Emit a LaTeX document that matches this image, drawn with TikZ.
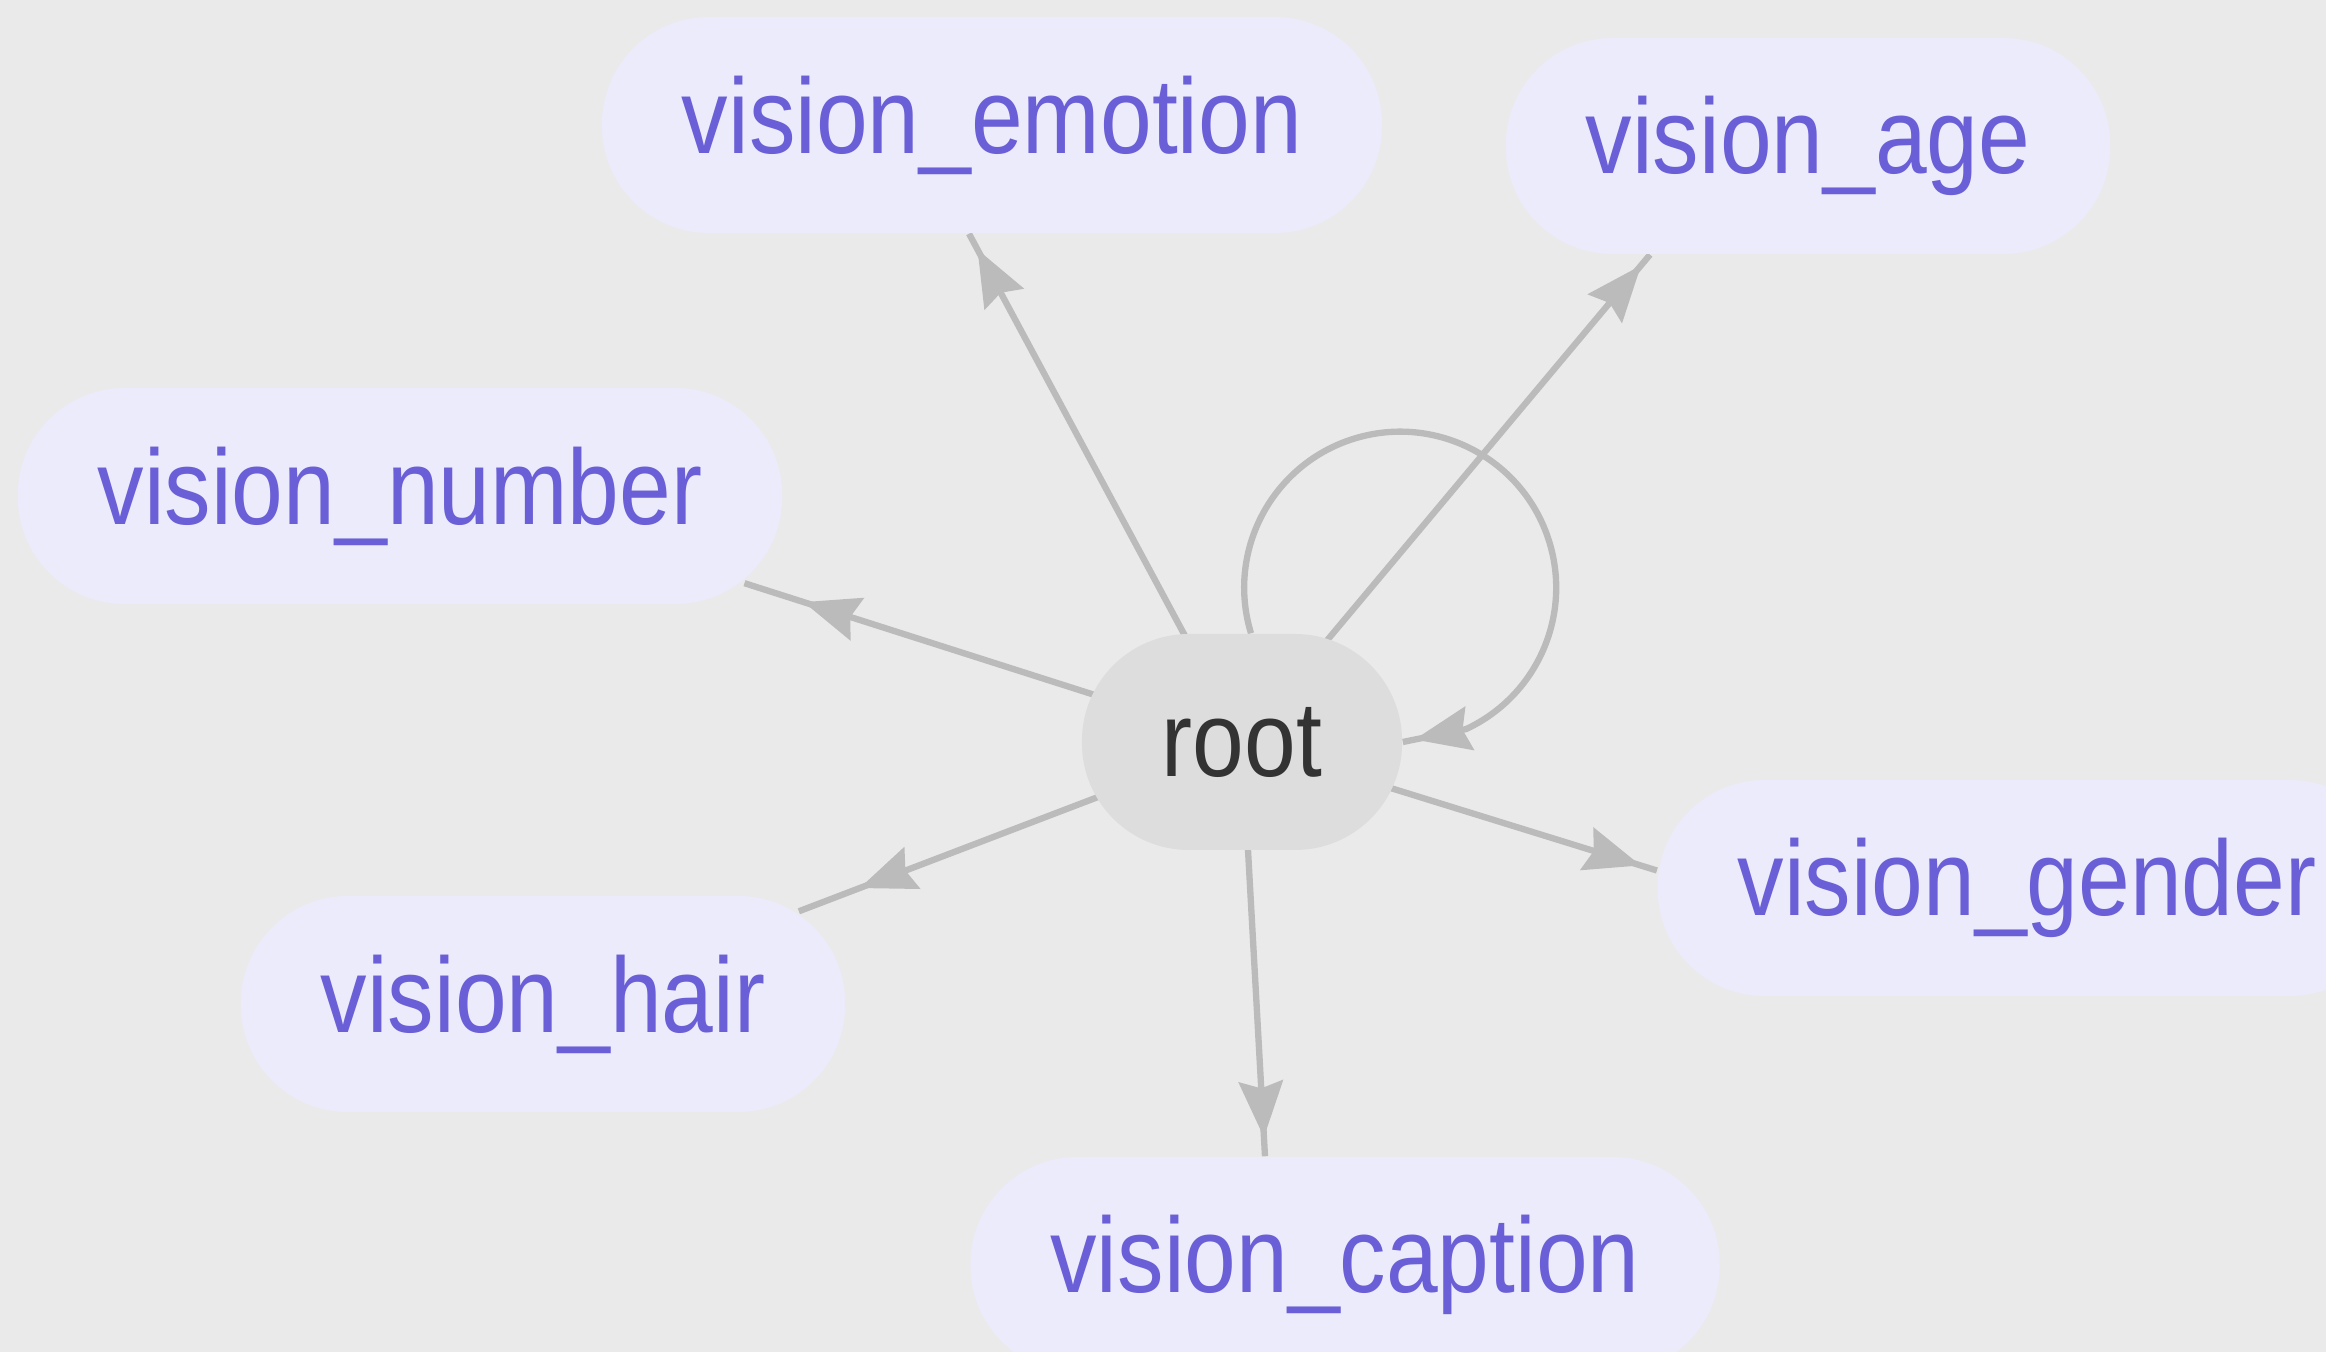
\documentclass[tikz,border=0pt]{standalone}
\usepackage{fontspec}
\setmainfont{Liberation Sans}[FakeStretch=0.87]
\usetikzlibrary{arrows.meta,decorations.markings}
\definecolor{canvas}{HTML}{EAEAEA}
\definecolor{lavender}{HTML}{ECEBFB}
\definecolor{labelblue}{HTML}{6A5FD6}
\definecolor{rootgrey}{HTML}{DDDDDD}
\definecolor{darktext}{HTML}{333333}
\definecolor{wireclr}{HTML}{BBBBBB}
\pgfdeclarelayer{background}
\pgfdeclarelayer{edges}
\pgfsetlayers{background,edges,main}

\begin{document}
\begin{tikzpicture}[
  task/.style={fill=lavender, rounded corners=1.07cm, minimum height=2.16cm, inner xsep=0.8cm, inner ysep=0pt, text=labelblue, font=\fontsize{30.4}{34}\selectfont},
  hub/.style={task, fill=rootgrey, text=darktext},
  wire/.style={draw=wireclr, line width=1.8pt},
  link/.style={wire, postaction=decorate, decoration={markings, mark=at position -#1 with {\arrow{Stealth[length=5.6mm,width=4.4mm,inset=0.7mm]}}}}
]
\useasboundingbox (0,0) rectangle (23.26,-13.52);
\begin{pgfonlayer}{background}
\fill[canvas] (0,0) rectangle (23.26,-13.52);
\end{pgfonlayer}

% nodes
\node[hub] (root) at (12.42,-7.42) {root};
\node[task] (emo) at (9.92,-1.25) {vision\_emotion};
\node[task] (age) at (18.08,-1.46) {vision\_age};
\node[task] (num) at (4.00,-4.96) {vision\_number};
\node[task] (gen) at (20.27,-8.88) {vision\_gender};
\node[task] (hair) at (5.43,-10.04) {vision\_hair};
\node[task] (cap) at (13.45,-12.65) {vision\_caption};

% edges, under the nodes
\begin{pgfonlayer}{edges}
\draw[link=0.18cm] (root.center) -- ([xshift=-0.23cm]emo.south);
\draw[link=0.14cm] (root.center) -- ([xshift=-1.58cm]age.south);
\draw[link=0.62cm] (root.center) -- ([shift={(-0.385,0.215)}]num.south east);
\draw[link=0.65cm] (root.center) -- ([shift={(-0.47,-0.16)}]hair.north east);
\draw[link=0.19cm] (root.center) -- ([xshift=-0.80cm]cap.north);
\draw[link=0.17cm] (root.center) -- ([yshift=0.175cm]gen.west);
\draw[link=0.12cm] ([xshift=0.09cm]root.north) arc[start angle=197, end angle=-65, radius=1.56cm]
  -- (root.east);
\end{pgfonlayer}
\end{tikzpicture}
\end{document}
